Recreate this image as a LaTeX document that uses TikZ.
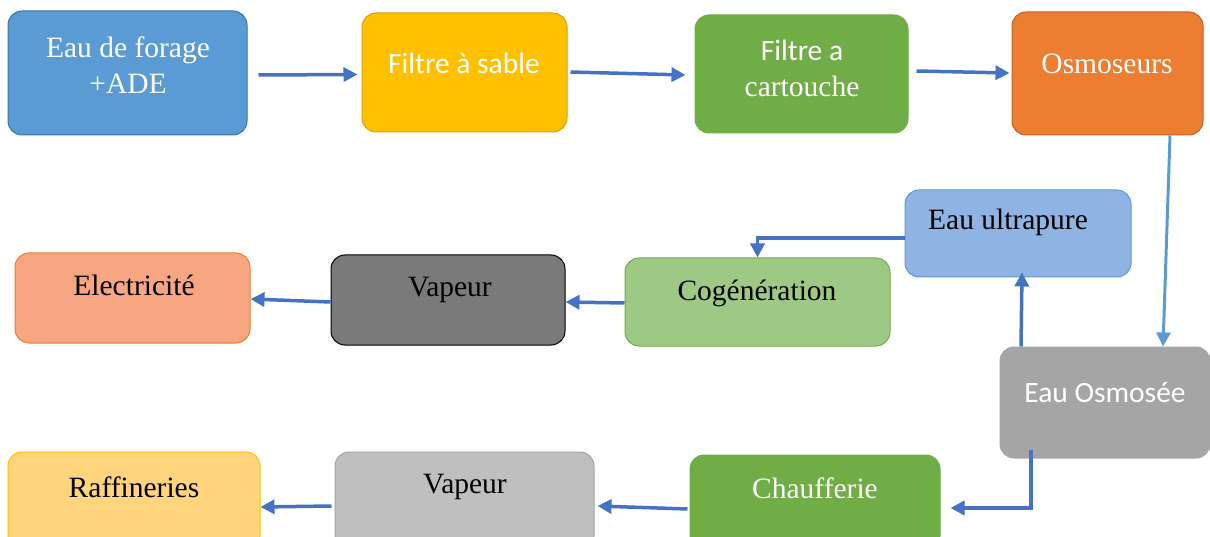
\documentclass[tikz,border=0pt]{standalone}
\usepackage{fontspec}
\setmainfont{Liberation Serif}
\newfontfamily\calib{Carlito}
\usetikzlibrary{arrows.meta}
\definecolor{cblue}{HTML}{5B9BD5}
\definecolor{cbluedk}{HTML}{41719C}
\definecolor{cgold}{HTML}{FFC000}
\definecolor{cgolddk}{HTML}{D9A300}
\definecolor{cgreen}{HTML}{70AD47}
\definecolor{corange}{HTML}{ED7D31}
\definecolor{corangedk}{HTML}{C0622A}
\definecolor{cultra}{HTML}{8FB4E3}
\definecolor{ccog}{HTML}{9DC985}
\definecolor{cvap}{HTML}{7A7A7A}
\definecolor{celec}{HTML}{F8A682}
\definecolor{cgray}{HTML}{A5A5A5}
\definecolor{cvap2}{HTML}{BFBFBF}
\definecolor{craff}{HTML}{FFD47C}
\definecolor{carrow}{HTML}{4472C4}
\tikzset{
  box/.style={rounded corners=14pt, line width=1pt, inner sep=0pt},
  wtxt/.style={text=white, font=\fontsize{29.5}{36}\selectfont, align=center, inner sep=0pt},
  wsans/.style={text=white, font=\calib\fontsize{29.5}{36}\selectfont, align=center, inner sep=0pt},
  btxt/.style={text=black, font=\fontsize{29.5}{36}\selectfont, align=center, inner sep=0pt},
  arr/.style={draw=carrow, line width=3.5pt, -{Triangle[length=14pt,width=14pt]}},
  arrl/.style={draw=cblue, line width=3pt, -{Triangle[length=14pt,width=14pt]}}
}
\begin{document}
\begin{tikzpicture}[x=1pt,y=-1pt]
\clip (0,0) rectangle (1210,537);
% boxes
\node[box, draw=cbluedk, fill=cblue, minimum width=239pt, minimum height=124pt] (b1) at (127.5,73) {};
\node[box, draw=cgolddk, fill=cgold, minimum width=205pt, minimum height=119pt] (b2) at (464.5,72.5) {};
\node[box, draw=cgreen, fill=cgreen, minimum width=213pt, minimum height=118pt] (b3) at (801.5,74) {};
\node[box, draw=corangedk, fill=corange, minimum width=191pt, minimum height=123pt] (b4) at (1107.5,73.5) {};
\node[box, draw=cblue, fill=cultra, minimum width=226pt, minimum height=87pt] (ultra) at (1018,233.5) {};
\node[box, draw=cgreen, fill=ccog, minimum width=265pt, minimum height=88pt] (cog) at (757.5,302) {};
\node[box, draw=black, fill=cvap, minimum width=234pt, minimum height=90pt] (vap1) at (448,300) {};
\node[box, draw=corange, fill=celec, minimum width=235pt, minimum height=90pt] (elec) at (132.5,298) {};
\node[box, draw=cgray, fill=cgray, minimum width=210pt, minimum height=111pt] (osm) at (1105,402.5) {};
\node[box, draw=cgreen, fill=cgreen, minimum width=250pt, minimum height=95pt] (chauf) at (815,502.5) {};
\node[box, draw=cgray, fill=cvap2, minimum width=259pt, minimum height=98pt] (vap2) at (464.5,501) {};
\node[box, draw=cgold, fill=craff, minimum width=252pt, minimum height=98pt] (raff) at (134,501) {};
% texts
\node[wtxt] (t1) at (128,65) {Eau de forage\\+ADE};
\node[wsans] (t2) at (464,63) {Filtre à sable};
\node[wtxt] (t3) at (802,68) {\calib Filtre a\\cartouche};
\node[wtxt] (t4) at (1107,64) {Osmoseurs};
\node[btxt] (t5) at (1008,222) {Eau ultrapure};
\node[btxt] (t6) at (757,293) {Cogénération};
\node[btxt] (t7) at (450,290) {Vapeur};
\node[btxt] (t8) at (134,285) {Electricité};
\node[wsans] (t9) at (1105,393) {Eau Osmosée};
\node[wtxt] (t10) at (815,488) {Chaufferie};
\node[btxt] (t11) at (465,487) {Vapeur};
\node[btxt] (t12) at (134,487) {Raffineries};
% arrows
\draw[arr] ([xshift=11pt,yshift=-2pt]b1.east) -- ([xshift=-4pt,yshift=-2pt]b2.west);
\draw[arr] ([xshift=3pt,yshift=0.5pt]b2.east) -- ([xshift=-9pt,yshift=-1pt]b3.west);
\draw[arr] ([xshift=8pt,yshift=3pt]b3.east) -- ([xshift=-2pt,yshift=0.5pt]b4.west);
\draw[arrl] ([xshift=62.5pt]b4.south) -- ([xshift=58pt]osm.north);
\draw[arr] ([yshift=-4.5pt]ultra.west) -| (cog.north);
\draw[arr] ([yshift=-1pt]cog.west) -- ([yshift=-2pt]vap1.east);
\draw[arr] ([yshift=-2pt]vap1.west) -- ([yshift=-1pt]elec.east);
\draw[arr] ([xshift=-84pt]osm.north) -- ([xshift=4pt,yshift=5pt]ultra.south);
\coordinate (bend) at (1031,508);
\draw[arr] ([xshift=-74pt,yshift=9pt]osm.south) -- (bend) -- ([xshift=10pt]chauf.east |- bend);
\draw[arr] ([xshift=-2pt,yshift=-6.5pt]chauf.west) -- ([xshift=3pt,yshift=-5pt]vap2.east);
\draw[arr] ([xshift=-3pt,yshift=-5pt]vap2.west) -- ([yshift=-6pt]raff.east);
\end{tikzpicture}
\end{document}
